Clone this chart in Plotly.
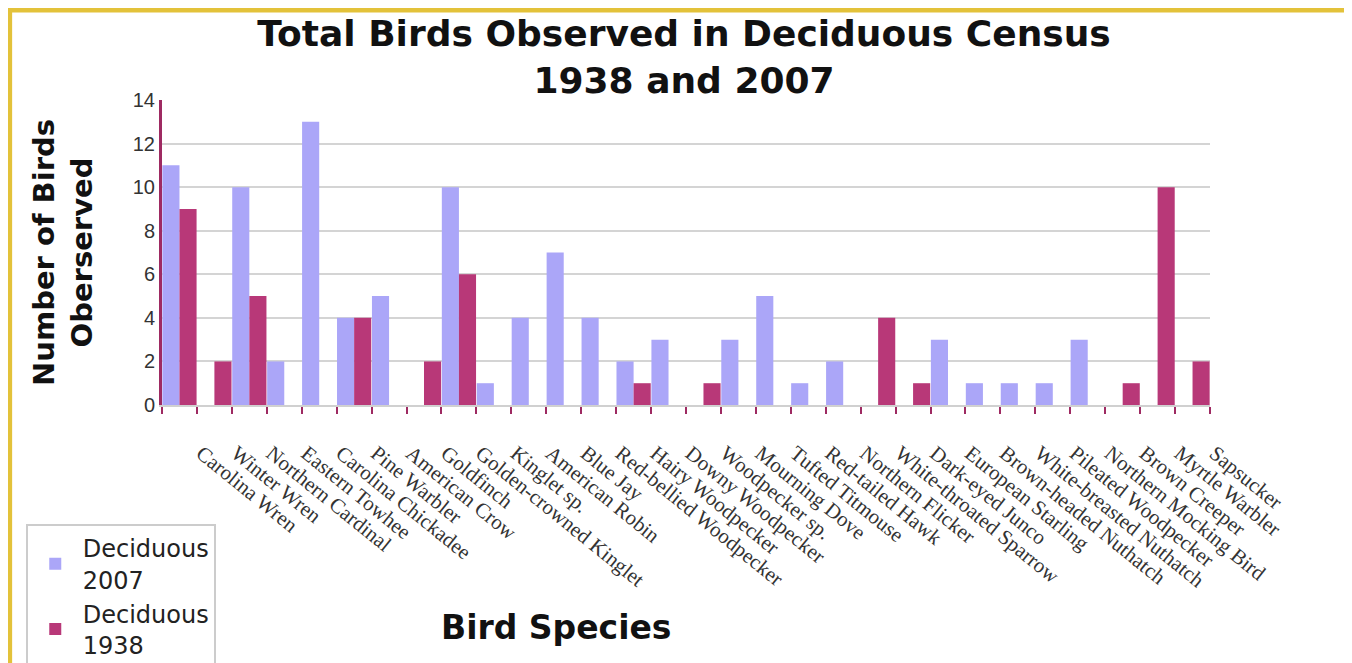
import plotly.graph_objects as go

species = [
    "Carolina Wren", "Winter Wren", "Northern Cardinal", "Eastern Towhee",
    "Carolina Chickadee", "Pine Warbler", "American Crow", "Goldfinch",
    "Golden-crowned Kinglet", "Kinglet sp.", "American Robin", "Blue Jay",
    "Red-bellied Woodpecker", "Hairy Woodpecker", "Downy Woodpecker",
    "Woodpecker sp.", "Mourning Dove", "Tufted Titmouse", "Red-tailed Hawk",
    "Northern Flicker", "White-throated Sparrow", "Dark-eyed Junco",
    "European Starling", "Brown-headed Nuthatch", "White-breasted Nuthatch",
    "Pileated Woodpecker", "Northern Mocking Bird", "Brown Creeper",
    "Myrtle Warbler", "Sapsucker",
]
deciduous_2007 = [11, 0, 10, 2, 13, 4, 5, 0, 10, 1, 4, 7, 4, 2, 3,
                  0, 3, 5, 1, 2, 0, 0, 3, 1, 1, 1, 3, 0, 0, 0]
deciduous_1938 = [9, 2, 5, 0, 0, 4, 0, 2, 6, 0, 0, 0, 0, 1, 0,
                  1, 0, 0, 0, 0, 4, 1, 0, 0, 0, 0, 0, 1, 10, 2]

lavender = "#ABA6F8"
maroon = "#B83878"

fig = go.Figure()
fig.add_trace(go.Bar(
    x=species, y=deciduous_2007, name="Deciduous<br>2007",
    marker=dict(color=lavender, line=dict(width=0)),
))
fig.add_trace(go.Bar(
    x=species, y=deciduous_1938, name="Deciduous<br>1938",
    marker=dict(color=maroon, line=dict(width=0)),
))

fig.update_layout(
    width=1344, height=655,
    margin=dict(l=154, r=142, t=92, b=258, autoexpand=False),
    paper_bgcolor="white", plot_bgcolor="white",
    barmode="group", bargap=0.02, bargroupgap=0,
    title=dict(
        text="<b>Total Birds Observed in Deciduous Census<br>1938 and 2007</b>",
        x=0.503, xanchor="center", y=0.942, yanchor="middle",
        font=dict(family="DejaVu Sans", size=36, color="#111"),
    ),
    font=dict(family="DejaVu Sans", color="#222"),
    legend=dict(
        x=-0.13, y=-0.39, xanchor="left", yanchor="top",
        bordercolor="#CCCCCC", borderwidth=2, bgcolor="white",
        font=dict(family="DejaVu Sans", size=24, color="#222"),
        itemwidth=45, tracegroupgap=0,
    ),
    showlegend=True,
)

fig.update_xaxes(
    type="category", tickson="boundaries", automargin=False,
    ticks="outside", ticklen=7, tickwidth=2, tickcolor="#9E2A62",
    showline=True, linecolor="#D0D0D0", linewidth=2,
    tickangle=39, ticklabelstandoff=26, ticklabelshift=22,
    tickfont=dict(family="Liberation Serif", size=21, color="#333"),
    showgrid=False,
)
fig.update_yaxes(
    range=[0, 14], dtick=2, automargin=False,
    showgrid=True, gridcolor="#D4D4D4", gridwidth=2,
    showline=True, linecolor="#9E2A62", linewidth=3,
    zeroline=False,
    tickfont=dict(family="Liberation Sans", size=20, color="#333"),
    title=dict(
        text="<b>Number of Birds<br>Oberserved</b>",
        font=dict(family="DejaVu Sans", size=29, color="#111"),
        standoff=32,
    ),
)

fig.add_annotation(
    text="<b>Bird Species</b>", xref="paper", yref="paper",
    x=0.376, y=-0.728, xanchor="center", yanchor="middle", showarrow=False,
    font=dict(family="DejaVu Sans", size=33, color="#111"),
)

# frame of the original screenshot
fig.add_shape(type="rect", xref="paper", yref="paper",
              x0=-0.16, x1=1.14, y0=1.287, y1=1.31,
              fillcolor="#E3C23A", line=dict(width=0), layer="below")
fig.add_shape(type="rect", xref="paper", yref="paper",
              x0=-0.148, x1=-0.143, y0=-0.86, y1=1.31,
              fillcolor="#E3C23A", line=dict(width=0), layer="below")

fig.write_html("out.html")
